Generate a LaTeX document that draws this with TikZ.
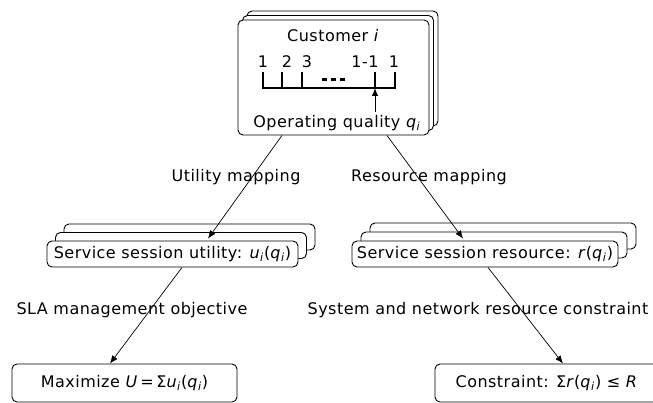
\documentclass[tikz,border=0pt]{standalone}
\usepackage{fontspec}
\setmainfont[LetterSpace=3]{DejaVu Sans}
\usetikzlibrary{arrows.meta,shadows}
\newcommand{\qi}{\textit{q}\textsubscript{\textit{i}}}
\newcommand{\ui}{\textit{u}\textsubscript{\textit{i}}}
\tikzset{
  box/.style={draw, fill=white, rounded corners=5pt, inner sep=0pt, line width=0.9pt},
  deck/.style={copy shadow={shadow xshift=2*#1, shadow yshift=2*#1},
               copy shadow={shadow xshift=#1, shadow yshift=#1}},
  link/.style={-{Latex[length=8pt,width=6.5pt]}, line width=0.7pt},
}
\begin{document}
\begin{tikzpicture}[x=1pt, y=-1pt, font=\fontsize{16}{19}\selectfont]
\useasboundingbox (0,0) rectangle (653,403);
\clip (0,0) rectangle (653,403);
% Customer card
\node[box, deck=4.5pt, minimum width=191, minimum height=115] (cust) at (333.5,77.5) {};
\node (title) at (333,36) {Customer \textit{i}};
\node (n1) at (263,62) {1};
\node (n2) at (287,62) {2};
\node (n3) at (307,62) {3};
\node (nm) at (365,62) {1-1};
\node (nl) at (394,62) {1};
\draw[line width=1.1pt] (263,72) -- (263,88) -- (395,88) -- (395,72);
\foreach \x in {282,302,375} \draw[line width=1.1pt] (\x,72) -- (\x,88);
\foreach \x in {324,333,342} \fill (\x-2.5,78) rectangle (\x+2.5,81);
\coordinate (mark) at (375,88);
\node (oq) at (337,123) {Operating quality \qi};
\draw[link, line width=1pt] (mark |- oq.north) -- (mark);
% Session cards
\node[box, deck=8.5pt, minimum width=251, minimum height=26] (util) at (172.5,254)
  {Service session utility: \ui(\qi)};
\node[box, deck=9pt, minimum width=266, minimum height=26] (res) at (485,254)
  {Service session resource: \textit{r}(\qi)};
% Goal cards
\node[box, minimum width=225, minimum height=38] (goal) at (124.5,383)
  {Maximize \textit{U}\,=\,Σ\ui(\qi)};
\node[box, minimum width=223, minimum height=38] (cons) at (546.5,383)
  {Constraint: Σ\textit{r}(\qi) ≤ \textit{R}};
% Labels
\node (umap) at (236,177) {Utility mapping};
\node (rmap) at (429,177) {Resource mapping};
\node (sla) at (132,310) {SLA management objective};
\node (snr) at (478,310) {System and network resource constraint};
% Connectors
\draw[link] ([xshift=-51.5pt]cust.south) -- ([xshift=35.5pt,yshift=2pt]util.north);
\draw[link] ([xshift=53.5pt]cust.south) -- ([xshift=-22pt,yshift=2pt]res.north);
\draw[link] ([xshift=9.5pt]util.south) -- ([xshift=-14.5pt]goal.north);
\draw[link] ([xshift=3pt]res.south) -- ([xshift=16.5pt]cons.north);
\end{tikzpicture}
\end{document}
